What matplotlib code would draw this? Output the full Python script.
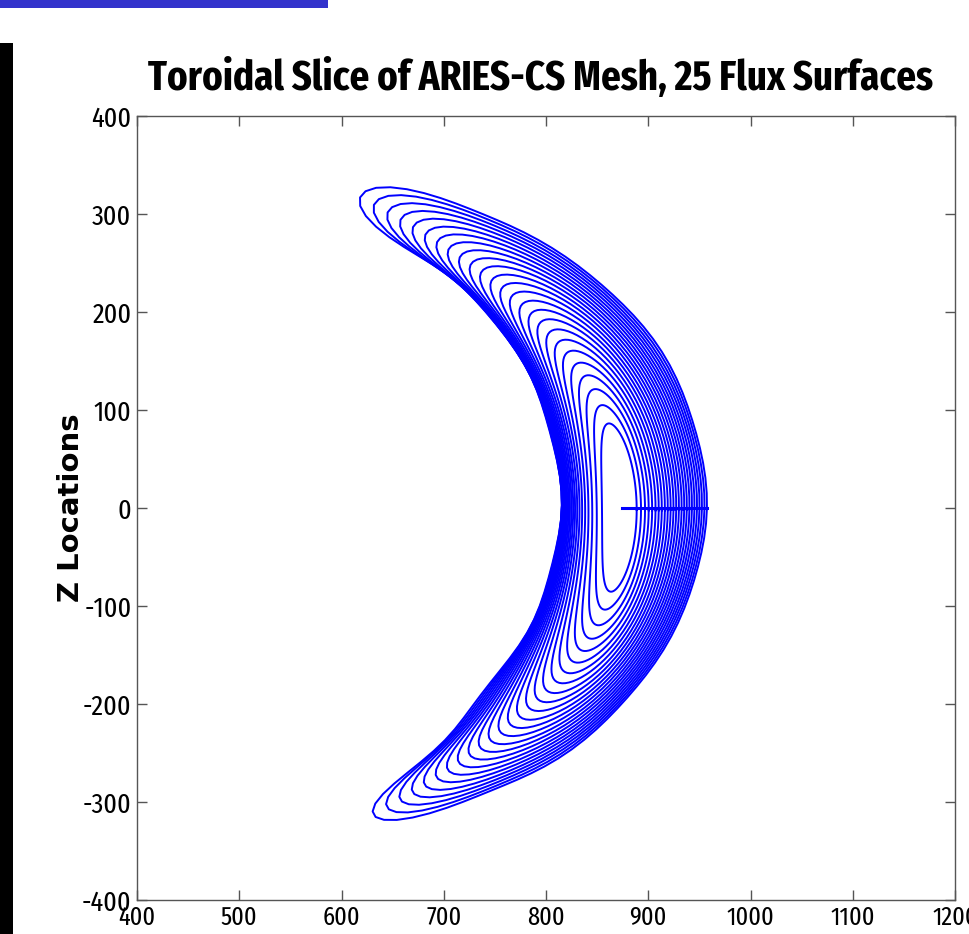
import numpy as np
import matplotlib.pyplot as plt
from matplotlib import font_manager
from matplotlib.font_manager import FontProperties
from matplotlib.patches import Rectangle

# outermost flux surface (R, Z), going round
# from the outboard midplane, over the top tip, back down the inside
edge_r = [957.5, 953.5, 940.8, 918.3, 883.1, 825.4, 755, 706, 657, 628, 613, 609,
          618, 644.5, 698.7, 735, 770.8, 795.5, 809.8, 815.6,
          808, 783, 735, 700, 664, 631, 620, 625, 647,
          696, 767, 826, 879, 916, 938, 953]
edge_z = [0, 49, 102, 151, 202, 253, 294, 314, 324.5, 327.6, 326.5, 321.4,
          307, 276.5, 243, 209, 161, 110, 59, 0,
          -60, -125, -196, -235, -275, -300, -311, -320, -320,
          -308, -281, -247, -196, -145, -94, -50]

# magnetic axis
axis_r = 874
axis_z = 0

# flux label of the 25 surfaces
flux = [0.080, 0.118, 0.157, 0.195, 0.233, 0.272, 0.310, 0.348, 0.387, 0.425,
        0.463, 0.502, 0.540, 0.578, 0.617, 0.655, 0.693, 0.732, 0.770, 0.808,
        0.847, 0.885, 0.923, 0.962, 1.000]

xticks = [400, 500, 600, 700, 800, 900, 1000, 1100, 1200]
yticks = [-400, -300, -200, -100, 0, 100, 200, 300, 400]

plt.rcParams['axes.unicode_minus'] = False


# pick the narrowest installed face
def narrowness(f):
    key = (f.fname + ' ' + f.name).lower().replace(' ', '').replace('-', '')
    if 'extracondensed' in key or 'ultracondensed' in key:
        return 4
    if 'narrow' in key:
        return 3.5
    if 'semicondensed' in key:
        return 1
    if 'condensed' in key or 'condensed' in str(f.stretch):
        return 3
    return 0


def is_bold(f):
    key = f.fname.lower()
    return 'bold' in key and not any(k in key for k in ('semibold', 'extrabold', 'demibold'))


def is_regular(f):
    key = f.fname.lower()
    return not any(k in key for k in ('bold', 'light', 'thin', 'medium', 'black', 'heavy'))


fonts = [f for f in font_manager.fontManager.ttflist
         if f.style == 'normal' and 'italic' not in f.fname.lower() and narrowness(f) > 0]
bolds = sorted([f for f in fonts if is_bold(f)], key=narrowness, reverse=True)
regs = sorted([f for f in fonts if is_regular(f)], key=narrowness, reverse=True)

if bolds:
    title_font = FontProperties(fname=bolds[0].fname, size=24)
else:
    title_font = FontProperties(family='Liberation Sans', weight='bold', size=24)
if regs:
    tick_font = FontProperties(fname=regs[0].fname, size=20)
    xsize, ysize = 19, 20.5
else:
    tick_font = FontProperties(family='Liberation Sans', size=17)
    xsize, ysize = 17, 17

# boundary -> fourier modes (equal arc length angle)
loop = np.array(edge_r) + 1j * np.array(edge_z)
loop = np.append(loop, loop[0])
arc = np.concatenate([[0], np.cumsum(np.abs(np.diff(loop)))])
n = 256
t = np.linspace(0, arc[-1], n, endpoint=False)
w = np.interp(t, arc, loop.real) + 1j * np.interp(t, arc, loop.imag)
coef = np.fft.fft(w) / n
modes = np.fft.fftfreq(n, 1.0 / n).astype(int)
axis_c = axis_r + 1j * axis_z

theta = np.linspace(0, 2 * np.pi, 121)


def surface(s, th):
    rho = np.sqrt(s)
    out = axis_c + s * (coef[0] - axis_c) + 0 * th
    for j, m in enumerate(modes):
        if m == 0 or abs(m) > 12:
            continue
        term = coef[j] * np.exp(1j * m * th)
        if abs(m) == 1:
            # inner surfaces are narrower in R than a plain rho scaling
            out = out + term.real * rho ** 1.3 + 1j * term.imag * rho
        else:
            out = out + rho ** (abs(m) + 0.5) * term
    return out


fig = plt.figure(figsize=(9.69, 9.34), dpi=100)
ax = fig.add_axes([137 / 969, 1 - 900 / 934, 818 / 969, 784 / 934])

for s in flux:
    z = surface(s, theta)
    ax.plot(z.real, z.imag, color='#0000ff', lw=1.4)

# theta = 0 mesh line
ax.plot([axis_r, edge_r[0]], [axis_z, edge_z[0]], color='#0000ff', lw=2.2)

ax.set_xlim(400, 1200)
ax.set_ylim(-400, 400)
ax.set_xticks(xticks)
ax.set_yticks(yticks)
ax.tick_params(direction='in', length=7, width=1, color='#555555', top=True, right=True)
ax.tick_params(axis='x', pad=4)
ax.tick_params(axis='y', pad=4)
for lab in ax.get_xticklabels():
    lab.set_fontproperties(tick_font)
    lab.set_fontsize(xsize)
for lab in ax.get_yticklabels():
    lab.set_fontproperties(tick_font)
    lab.set_fontsize(ysize)
for sp in ax.spines.values():
    sp.set_color('#555555')
    sp.set_linewidth(1)

ttl = ax.set_title('Toroidal Slice of ARIES-CS Mesh, 25 Flux Surfaces',
                   fontproperties=title_font, pad=19)
ttl.set_x(0.493)
ax.set_ylabel('Z Locations', fontsize=21, fontweight='bold', family='DejaVu Sans')
ax.yaxis.set_label_coords(-0.064, 0.5)

# size the title to the width seen in the picture
fig.canvas.draw()
rend = fig.canvas.get_renderer()
tw = ttl.get_window_extent(rend).width
ttl.set_fontsize(ttl.get_fontsize() * 785 / tw)

# slide decorations
fig.add_artist(Rectangle((0, 1 - 8 / 934), 328 / 969, 8 / 934, transform=fig.transFigure,
                         facecolor='#3333cc', edgecolor='none'))
fig.add_artist(Rectangle((0, 0), 13 / 969, 1 - 43 / 934, transform=fig.transFigure,
                         facecolor='black', edgecolor='none'))

fig.savefig('out.png', dpi=100)
